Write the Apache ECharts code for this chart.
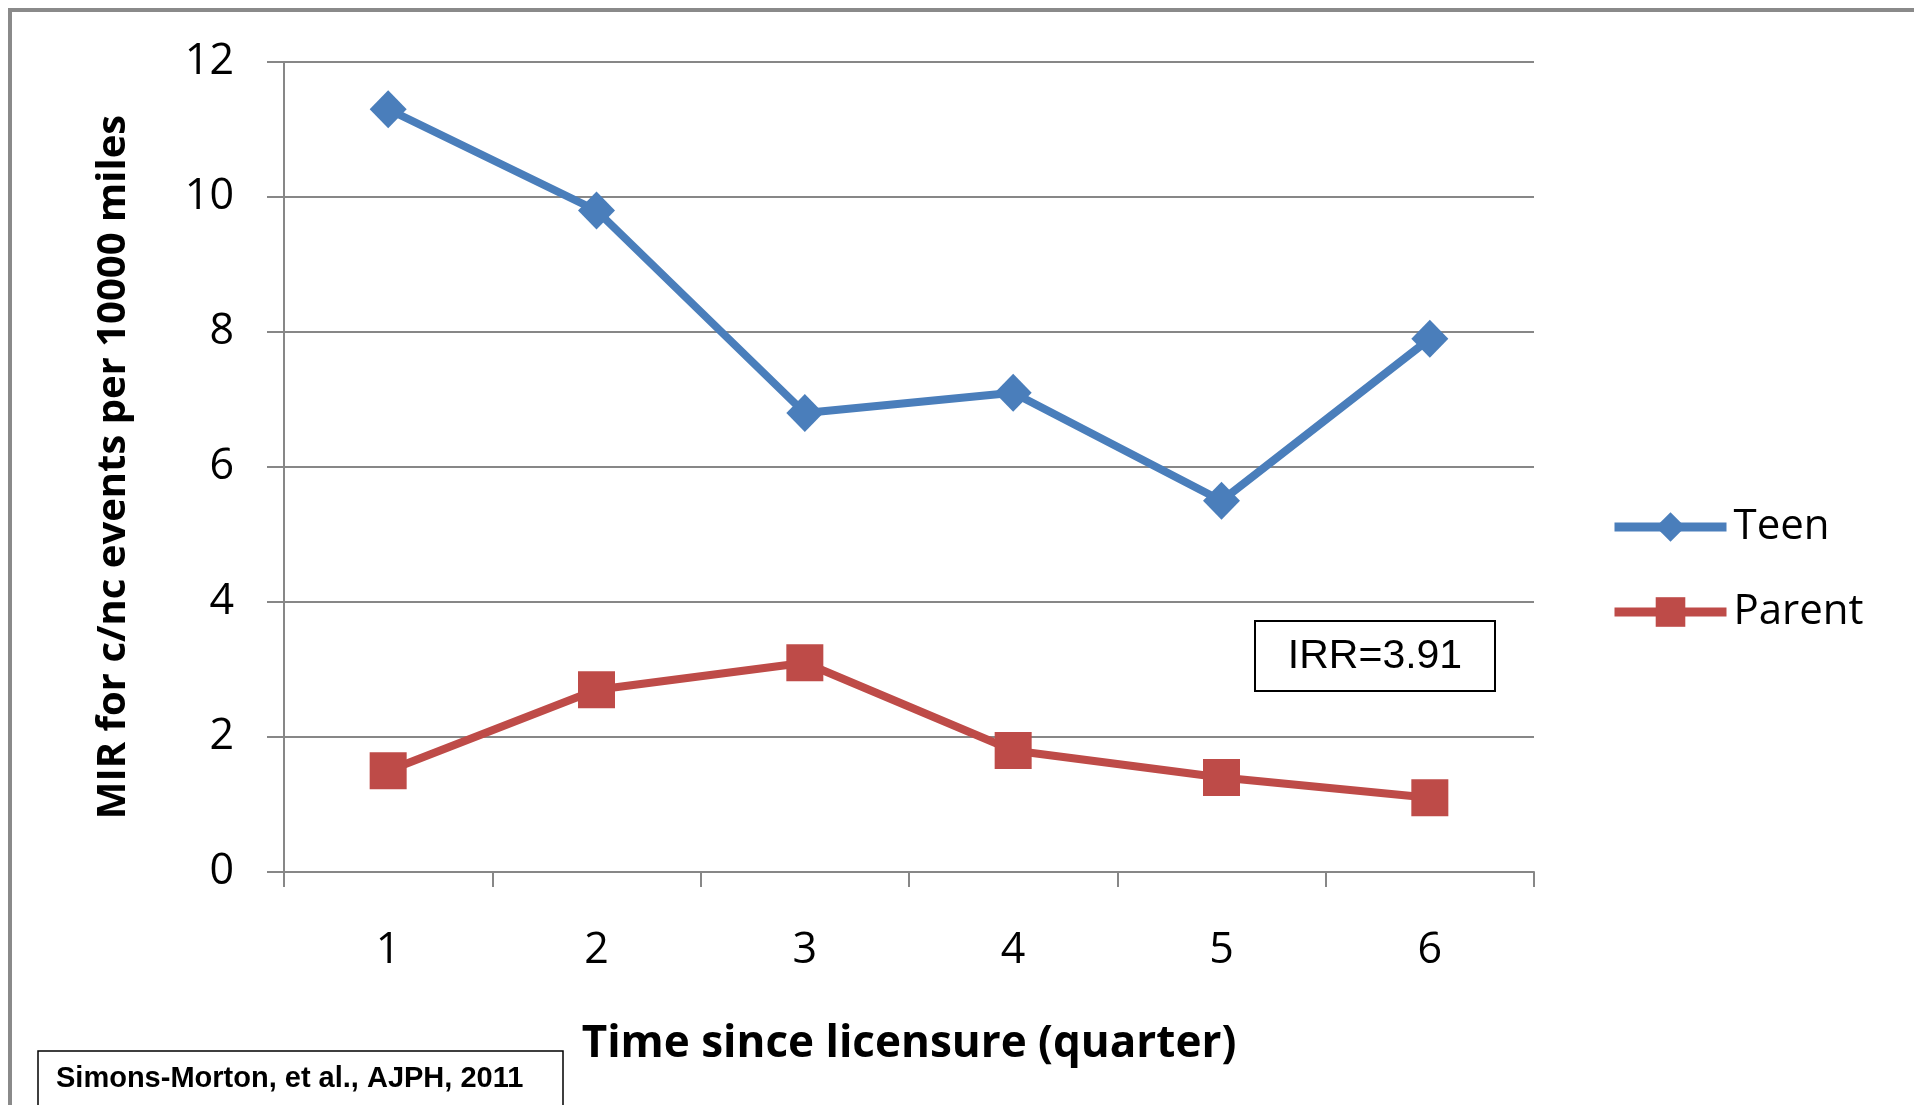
<!DOCTYPE html>
<html>
<head>
<meta charset="utf-8">
<title>MIR for c/nc events: Teen vs Parent</title>
<style>
  html, body { margin: 0; padding: 0; background: #ffffff; }
  #chart { width: 1914px; height: 1105px; }
</style>
<script src="https://cdn.jsdelivr.net/npm/echarts@6/dist/echarts.min.js"></script>
</head>
<body>
<div id="chart"></div>
<script>
// Quarters since licensure and the two rate series
const quarters = ['1', '2', '3', '4', '5', '6'];
const teenRates = [11.3, 9.8, 6.8, 7.1, 5.5, 7.9];
const parentRates = [1.5, 2.7, 3.1, 1.8, 1.4, 1.1];
const yMin = 0;
const yMax = 12;
const yStep = 2;

const seriesNames = ['Teen', 'Parent'];
const xTitle = 'Time since licensure (quarter)';
const yTitle = 'MIR for c/nc events per 10000 miles';
const irrLabel = 'IRR=3.91';
const sourceNote = 'Simons-Morton, et al., AJPH, 2011';

const gray = '#878787';
const blue = '#4A7EBB';
const red = '#BE4B48';
const tickFont = '"Open Sans", "DejaVu Sans", sans-serif';

const chart = echarts.init(document.getElementById('chart'), null, { renderer: 'canvas' });

chart.setOption({
  animation: false,
  backgroundColor: '#ffffff',
  grid: {
    left: 284, right: 380, top: 62, bottom: 233,
    containLabel: false,
    outerBoundsMode: 'none'
  },
  legend: {
    orient: 'vertical',
    left: 1605,
    top: 501,
    itemWidth: 112,
    itemHeight: 37,
    itemGap: 43,
    selectedMode: false,
    data: seriesNames,
    lineStyle: { width: 9 },
    textStyle: { fontFamily: tickFont, fontSize: 42, color: '#000000', padding: [0, 0, 0, 2] }
  },
  xAxis: {
    type: 'category',
    data: quarters,
    boundaryGap: true,
    name: xTitle,
    nameLocation: 'middle',
    nameGap: 150,
    nameTextStyle: {
      fontFamily: '"Open Sans", sans-serif', fontWeight: 'bold', fontSize: 44, color: '#000000'
    },
    axisLine: { show: true, lineStyle: { color: gray, width: 2 } },
    axisTick: { show: true, length: 15, interval: 0, alignWithLabel: false, lineStyle: { color: gray, width: 2 } },
    axisLabel: { margin: 57, fontFamily: tickFont, fontSize: 43, color: '#000000', interval: 0 },
    splitLine: { show: false }
  },
  yAxis: {
    type: 'value',
    min: yMin,
    max: yMax,
    interval: yStep,
    name: yTitle,
    nameLocation: 'middle',
    nameGap: 150,
    nameTextStyle: {
      fontFamily: '"Open Sans", sans-serif', fontWeight: 'bold', fontSize: 40, color: '#000000'
    },
    axisLine: { show: true, lineStyle: { color: gray, width: 2 } },
    axisTick: { show: true, length: 17, lineStyle: { color: gray, width: 2 } },
    axisLabel: { margin: 50, fontFamily: tickFont, fontSize: 43, color: '#000000' },
    splitLine: { show: true, lineStyle: { color: gray, width: 2 } }
  },
  series: [
    {
      name: seriesNames[0],
      type: 'line',
      data: teenRates,
      symbol: 'diamond',
      symbolSize: [37, 38],
      showSymbol: true,
      color: blue,
      lineStyle: { color: blue, width: 8 },
      itemStyle: { color: blue },
      emphasis: { disabled: true },
      z: 3
    },
    {
      name: seriesNames[1],
      type: 'line',
      data: parentRates,
      symbol: 'rect',
      symbolSize: 37,
      showSymbol: true,
      color: red,
      lineStyle: { color: red, width: 8 },
      itemStyle: { color: red },
      emphasis: { disabled: true },
      z: 2
    }
  ],
  graphic: [
    {
      // outer frame
      type: 'rect',
      silent: true,
      shape: { x: 10, y: 10, width: 2000, height: 2000 },
      style: { fill: 'none', stroke: '#8a8a8a', lineWidth: 4 }
    },
    {
      type: 'group',
      silent: true,
      children: [
        {
          type: 'rect',
          shape: { x: 1255, y: 621, width: 240, height: 70 },
          style: { fill: '#ffffff', stroke: '#000000', lineWidth: 2 }
        },
        {
          type: 'text',
          style: {
            text: irrLabel, x: 1375, y: 657,
            textAlign: 'center', textVerticalAlign: 'middle',
            font: '41px "Liberation Sans", Arial, sans-serif', fill: '#000000'
          }
        }
      ]
    },
    {
      type: 'group',
      silent: true,
      children: [
        {
          type: 'rect',
          shape: { x: 38, y: 1051, width: 525, height: 90 },
          style: { fill: '#ffffff', stroke: '#000000', lineWidth: 1.5 }
        },
        {
          type: 'text',
          style: {
            text: sourceNote, x: 56, y: 1079,
            textAlign: 'left', textVerticalAlign: 'middle',
            font: 'bold 29px "Liberation Sans", Arial, sans-serif', fill: '#000000'
          }
        }
      ]
    }
  ]
});
</script>
</body>
</html>
